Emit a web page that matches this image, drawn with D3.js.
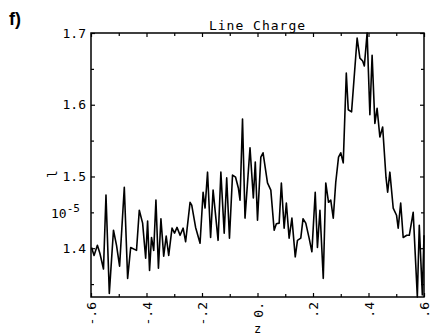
<!DOCTYPE html>
<html>
<head>
<meta charset="utf-8">
<script src="https://cdn.jsdelivr.net/npm/d3@7/dist/d3.min.js"></script>
<style>
  body { margin: 0; background: #fff; }
  svg text { fill: #000; }
</style>
</head>
<body>
<div id="chart"></div>
<script>
// line charge (units of 10^-5) vs z
const zValues = [
  -0.598, -0.589, -0.577, -0.568, -0.555, -0.546, -0.534, -0.519, -0.508, -0.497,
  -0.480, -0.468, -0.457, -0.436, -0.426, -0.414, -0.403, -0.396, -0.389, -0.382,
  -0.374, -0.366, -0.357, -0.348, -0.338, -0.329, -0.320, -0.308, -0.299, -0.290,
  -0.279, -0.268, -0.259, -0.243, -0.237, -0.223, -0.207, -0.196, -0.189, -0.180,
  -0.169, -0.160, -0.142, -0.132, -0.120, -0.111, -0.101, -0.090, -0.079, -0.069,
  -0.063, -0.054, -0.045, -0.027, -0.015, -0.008, 0.000, 0.012, 0.020, 0.036,
  0.048, 0.060, 0.068, 0.078, 0.086, 0.096, 0.104, 0.114, 0.124, 0.136,
  0.144, 0.156, 0.164, 0.174, 0.186, 0.196, 0.208, 0.216, 0.225, 0.237,
  0.246, 0.256, 0.264, 0.273, 0.282, 0.292, 0.300, 0.309, 0.320, 0.327,
  0.339, 0.359, 0.369, 0.379, 0.385, 0.395, 0.405, 0.413, 0.423, 0.431,
  0.441, 0.451, 0.463, 0.469, 0.477, 0.489, 0.501, 0.507, 0.516, 0.525,
  0.538, 0.547, 0.561, 0.576, 0.583, 0.594, 0.600
];
const chargeValues = [
  1.401, 1.390, 1.404, 1.393, 1.371, 1.474, 1.337, 1.425, 1.404, 1.375,
  1.485, 1.358, 1.401, 1.397, 1.453, 1.435, 1.386, 1.438, 1.369, 1.415,
  1.397, 1.467, 1.372, 1.441, 1.389, 1.417, 1.390, 1.428, 1.421, 1.429,
  1.418, 1.428, 1.409, 1.464, 1.460, 1.429, 1.407, 1.478, 1.456, 1.506,
  1.415, 1.481, 1.411, 1.506, 1.421, 1.498, 1.414, 1.502, 1.499, 1.484,
  1.467, 1.580, 1.442, 1.540, 1.470, 1.520, 1.439, 1.527, 1.533, 1.491,
  1.481, 1.425, 1.434, 1.435, 1.491, 1.428, 1.463, 1.414, 1.442, 1.388,
  1.411, 1.414, 1.441, 1.435, 1.414, 1.395, 1.478, 1.401, 1.453, 1.358,
  1.491, 1.464, 1.467, 1.442, 1.492, 1.527, 1.533, 1.519, 1.644, 1.593,
  1.590, 1.693, 1.665, 1.661, 1.654, 1.700, 1.586, 1.669, 1.574, 1.595,
  1.555, 1.569, 1.499, 1.478, 1.506, 1.456, 1.446, 1.428, 1.463, 1.415,
  1.418, 1.418, 1.450, 1.332, 1.432, 1.335, 1.418
];
const xMajorTicks = [-0.6, -0.4, -0.2, 0, 0.2, 0.4, 0.6];
const xTickLabels = ["-.6", "-.4", "-.2", "0.", ".2", ".4", ".6"];
const xMinorTicks = [-0.5, -0.3, -0.1, 0.1, 0.3, 0.5];
const yMajorTicks = [1.4, 1.5, 1.6, 1.7];
const yTickLabels = ["1.4", "1.5", "1.6", "1.7"];
const yMinorTicks = [1.35, 1.45, 1.55, 1.65];

const width = 437, height = 335;
const margin = { top: 33, right: 13, bottom: 38, left: 91 };
const mono = "'DejaVu Sans Mono', monospace";

const svg = d3.select("#chart").append("svg")
  .attr("width", width)
  .attr("height", height);

const x = d3.scaleLinear().domain([-0.6, 0.6]).range([margin.left, width - margin.right]);
const y = d3.scaleLinear().domain([1.332, 1.7]).range([height - margin.bottom, margin.top]);

const data = zValues.map((z, i) => ({ z: z, v: chargeValues[i] }));

// inward ticks on all four sides
function tickAxis(axis, tr, values, size) {
  const g = svg.append("g").attr("transform", tr)
    .call(axis.tickValues(values).tickSize(size).tickFormat(""));
  g.select(".domain").remove();
  g.selectAll(".tick line").attr("stroke", "#000").attr("stroke-width", 1.2);
  return g;
}
tickAxis(d3.axisBottom(x), `translate(0,${y.range()[0]})`, xMinorTicks, -3);
tickAxis(d3.axisTop(x), `translate(0,${margin.top})`, xMinorTicks, -3);
tickAxis(d3.axisTop(x), `translate(0,${margin.top})`, xMajorTicks, -4);
tickAxis(d3.axisLeft(y), `translate(${margin.left},0)`, yMinorTicks, -3);
tickAxis(d3.axisRight(y), `translate(${width - margin.right},0)`, yMinorTicks, -3);
tickAxis(d3.axisRight(y), `translate(${width - margin.right},0)`, yMajorTicks, -4);

// bottom axis with rotated labels
const xAxisG = svg.append("g")
  .attr("transform", `translate(0,${y.range()[0]})`)
  .call(d3.axisBottom(x).tickValues(xMajorTicks).tickSize(-4)
    .tickFormat((d, i) => xTickLabels[i]));
xAxisG.select(".domain").remove();
xAxisG.selectAll(".tick line").attr("stroke", "#000").attr("stroke-width", 1.2);
xAxisG.selectAll(".tick text")
  .attr("y", null)
  .attr("x", -5)
  .attr("dy", "0.36em")
  .attr("transform", "rotate(-90)")
  .attr("text-anchor", "end")
  .style("font-family", mono)
  .style("font-size", "13px");

// left axis
const yAxisG = svg.append("g")
  .attr("transform", `translate(${margin.left},0)`)
  .call(d3.axisLeft(y).tickValues(yMajorTicks).tickSize(-4).tickPadding(5)
    .tickFormat((d, i) => yTickLabels[i]));
yAxisG.select(".domain").remove();
yAxisG.selectAll(".tick line").attr("stroke", "#000").attr("stroke-width", 1.2);
yAxisG.selectAll(".tick text")
  .style("font-family", mono)
  .style("font-size", "13px");

// frame
svg.append("rect")
  .attr("x", x.range()[0])
  .attr("y", y.range()[1])
  .attr("width", x.range()[1] - x.range()[0])
  .attr("height", y.range()[0] - y.range()[1])
  .attr("fill", "none")
  .attr("stroke", "#000")
  .attr("stroke-width", 1.5);

// the curve
const line = d3.line().x(d => x(d.z)).y(d => y(d.v));
svg.append("path")
  .datum(data)
  .attr("d", line)
  .attr("fill", "none")
  .attr("stroke", "#000")
  .attr("stroke-width", 1.6)
  .attr("stroke-linejoin", "round");

// texts
svg.append("text")
  .attr("x", (x.range()[0] + x.range()[1]) / 2)
  .attr("y", 30)
  .attr("text-anchor", "middle")
  .style("font-family", mono)
  .style("font-size", "13px")
  .style("letter-spacing", "1px")
  .text("Line Charge");

svg.append("text")
  .attr("x", 9)
  .attr("y", 25)
  .style("font-family", "'Liberation Sans', Arial, sans-serif")
  .style("font-weight", "bold")
  .style("font-size", "18px")
  .text("f)");

svg.append("text")
  .attr("transform", "translate(52,174) rotate(-90)")
  .attr("text-anchor", "middle")
  .attr("dy", "0.35em")
  .style("font-family", mono)
  .style("font-size", "13px")
  .text("l");

const exp = svg.append("text")
  .attr("x", 51)
  .attr("y", 218)
  .style("font-family", mono)
  .style("font-size", "13px");
exp.append("tspan").text("10");
exp.append("tspan").attr("dy", -6).style("font-size", "11px").text("-5");

svg.append("text")
  .attr("x", x(0))
  .attr("y", 333)
  .attr("text-anchor", "middle")
  .style("font-family", mono)
  .style("font-size", "12px")
  .text("z");
</script>
</body>
</html>
